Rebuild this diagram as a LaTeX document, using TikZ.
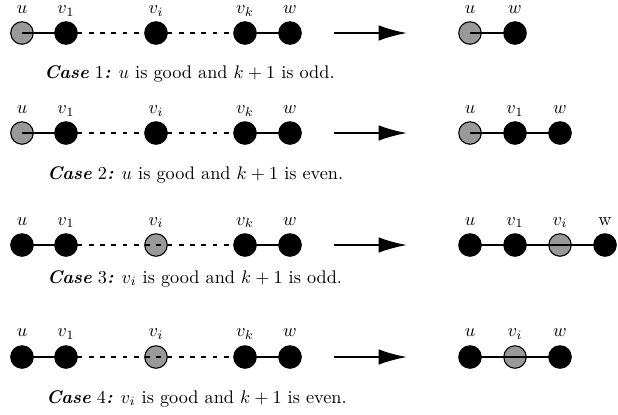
\documentclass[tikz,border=0pt]{standalone}
\usetikzlibrary{arrows.meta}
\begin{document}
\begin{tikzpicture}[x=0.548pt,y=-0.548pt,
  vtx/.style={circle,draw=black,fill=black,minimum size=22.5*0.548pt,inner sep=0pt,line width=0.6pt},
  goodvtx/.style={vtx,fill=black!40},
  edge/.style={line width=1.1pt},
  dotedge/.style={line width=1.2pt,dash pattern=on 2.7pt off 3.5pt},
  lab/.style={anchor=base,inner sep=0pt},
  captext/.style={anchor=base west,inner sep=0pt},
  bigarrow/.style={line width=1.2pt,-{Latex[length=15.5pt,width=8.5pt]}}]
\useasboundingbox (0,0) rectangle (618,414);
% ---------- Row 1 ----------
\node[goodvtx] (a1u) at (22,33) {};
\node[vtx] (a1v1) at (66,33) {};
\node[vtx] (a1vi) at (156,33) {};
\node[vtx] (a1vk) at (245,33) {};
\node[vtx] (a1w) at (290,33) {};
\draw[edge] (a1u.center) -- (a1v1.center);
\draw[dotedge] (a1v1.center) -- (a1vi.center);
\draw[dotedge] (a1vi.center) -- (a1vk.center);
\draw[edge] (a1vk.center) -- (a1w.center);
\node[lab] (l1u) at (22,13.5) {$u$};
\node[lab] (l1v1) at (66,13.5) {$v_1$};
\node[lab] (l1vi) at (156,13.5) {$v_i$};
\node[lab] (l1vk) at (245,13.5) {$v_k$};
\node[lab] (l1w) at (290,13.5) {$w$};
\coordinate (r1s) at (334,33); \coordinate (r1e) at (407,33);
\draw[bigarrow] (r1s) -- (r1e);
\node[goodvtx] (b1u) at (470,33) {};
\node[vtx] (b1w) at (515,33) {};
\draw[edge] (b1u.center) -- (b1w.center);
\node[lab] (m1u) at (470,13.5) {$u$};
\node[lab] (m1w) at (515,13.5) {$w$};
\node[captext] (c1) at (44,78) {\textbf{\textit{Case}} 1\textbf{\textit{:}} $u$ is good and $k+1$ is odd.};
% ---------- Row 2 ----------
\node[goodvtx] (a2u) at (22,133) {};
\node[vtx] (a2v1) at (66,133) {};
\node[vtx] (a2vi) at (156,133) {};
\node[vtx] (a2vk) at (245,133) {};
\node[vtx] (a2w) at (290,133) {};
\draw[edge] (a2u.center) -- (a2v1.center);
\draw[dotedge] (a2v1.center) -- (a2vi.center);
\draw[dotedge] (a2vi.center) -- (a2vk.center);
\draw[edge] (a2vk.center) -- (a2w.center);
\node[lab] (l2u) at (22,113.5) {$u$};
\node[lab] (l2v1) at (66,113.5) {$v_1$};
\node[lab] (l2vi) at (156,113.5) {$v_i$};
\node[lab] (l2vk) at (245,113.5) {$v_k$};
\node[lab] (l2w) at (290,113.5) {$w$};
\coordinate (r2s) at (334,133); \coordinate (r2e) at (407,133);
\draw[bigarrow] (r2s) -- (r2e);
\node[goodvtx] (b2u) at (470,133) {};
\node[vtx] (b2v1) at (515,133) {};
\node[vtx] (b2w) at (560,133) {};
\draw[edge] (b2u.center) -- (b2v1.center) -- (b2w.center);
\node[lab] (m2u) at (470,113.5) {$u$};
\node[lab] (m2v1) at (515,113.5) {$v_1$};
\node[lab] (m2w) at (560,113.5) {$w$};
\node[captext] (c2) at (47,179) {\textbf{\textit{Case}} 2\textbf{\textit{:}} $u$ is good and $k+1$ is even.};
% ---------- Row 3 ----------
\node[vtx] (a3u) at (22,245) {};
\node[vtx] (a3v1) at (66,245) {};
\node[goodvtx] (a3vi) at (156,245) {};
\node[vtx] (a3vk) at (245,245) {};
\node[vtx] (a3w) at (290,245) {};
\draw[edge] (a3u.center) -- (a3v1.center);
\draw[dotedge] (a3v1.center) -- (a3vi.center);
\draw[dotedge] (a3vi.center) -- (a3vk.center);
\draw[edge] (a3vk.center) -- (a3w.center);
\node[lab] (l3u) at (22,225) {$u$};
\node[lab] (l3v1) at (66,225) {$v_1$};
\node[lab] (l3vi) at (156,225) {$v_i$};
\node[lab] (l3vk) at (245,225) {$v_k$};
\node[lab] (l3w) at (290,225) {$w$};
\coordinate (r3s) at (334,245); \coordinate (r3e) at (407,245);
\draw[bigarrow] (r3s) -- (r3e);
\node[vtx] (b3u) at (470,245) {};
\node[vtx] (b3v1) at (515,245) {};
\node[goodvtx] (b3vi) at (560,245) {};
\node[vtx] (b3w) at (605,245) {};
\draw[edge] (b3u.center) -- (b3v1.center) -- (b3vi.center) -- (b3w.center);
\node[lab] (m3u) at (470,225) {$u$};
\node[lab] (m3v1) at (515,225) {$v_1$};
\node[lab] (m3vi) at (560,225) {$v_i$};
\node[lab] (m3w) at (605,225) {w};
\node[captext] (c3) at (47,283) {\textbf{\textit{Case}} 3\textbf{\textit{:}} $v_i$ is good and $k+1$ is odd.};
% ---------- Row 4 ----------
\node[vtx] (a4u) at (22,357) {};
\node[vtx] (a4v1) at (66,357) {};
\node[goodvtx] (a4vi) at (156,357) {};
\node[vtx] (a4vk) at (245,357) {};
\node[vtx] (a4w) at (290,357) {};
\draw[edge] (a4u.center) -- (a4v1.center);
\draw[dotedge] (a4v1.center) -- (a4vi.center);
\draw[dotedge] (a4vi.center) -- (a4vk.center);
\draw[edge] (a4vk.center) -- (a4w.center);
\node[lab] (l4u) at (22,336.5) {$u$};
\node[lab] (l4v1) at (66,336.5) {$v_1$};
\node[lab] (l4vi) at (156,336.5) {$v_i$};
\node[lab] (l4vk) at (245,336.5) {$v_k$};
\node[lab] (l4w) at (290,336.5) {$w$};
\coordinate (r4s) at (334,357); \coordinate (r4e) at (407,357);
\draw[bigarrow] (r4s) -- (r4e);
\node[vtx] (b4u) at (470,357) {};
\node[goodvtx] (b4vi) at (515,357) {};
\node[vtx] (b4w) at (560,357) {};
\draw[edge] (b4u.center) -- (b4vi.center) -- (b4w.center);
\node[lab] (m4u) at (470,336.5) {$u$};
\node[lab] (m4vi) at (515,336.5) {$v_i$};
\node[lab] (m4w) at (560,336.5) {$w$};
\node[captext] (c4) at (46,403) {\textbf{\textit{Case}} 4\textbf{\textit{:}} $v_i$ is good and $k+1$ is even.};
\end{tikzpicture}
\end{document}
